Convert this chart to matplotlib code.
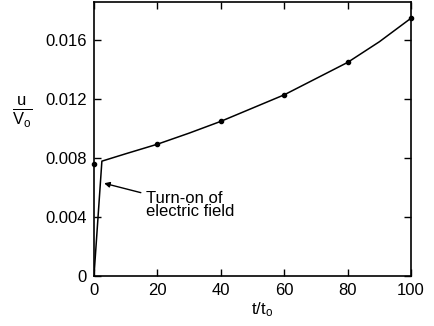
import matplotlib.pyplot as plt

plt.rcParams['font.family'] = ['Liberation Sans', 'DejaVu Sans']
plt.rcParams['mathtext.fontset'] = 'custom'
plt.rcParams['mathtext.rm'] = 'Liberation Sans'
plt.rcParams['mathtext.it'] = 'Liberation Sans'

# ---------------- DATA ----------------
# smooth curve, including the steep turn-on at the start
curve_t = [0, 2.5, 10, 20, 30, 40, 50, 60, 70, 75, 80, 85, 90, 95, 100]
curve_u = [0.0, 0.0078, 0.0083, 0.00895, 0.0097, 0.0105, 0.0114,
           0.0123, 0.0134, 0.01395, 0.0145, 0.0152, 0.0159, 0.0167, 0.0175]

# marked points
point_t = [0, 20, 40, 60, 80, 100]
point_u = [0.0076, 0.00895, 0.0105, 0.0123, 0.0145, 0.0175]

x_ticks = [0, 20, 40, 60, 80, 100]
y_ticks = [0, 0.004, 0.008, 0.012, 0.016]
y_tick_labels = ["0", "0.004", "0.008", "0.012", "0.016"]

# ---------------- FIGURE ----------------
fig = plt.figure(figsize=(4.35, 3.26), dpi=100)
ax = fig.add_axes([0.216, 0.153, 0.729, 0.841])

ax.plot(curve_t, curve_u, color='black', linewidth=1.1)
ax.plot(point_t, point_u, 'o', color='black', markersize=3, clip_on=False)

ax.set_xlim(0, 100)
ax.set_ylim(0, 0.0186)
ax.set_xticks(x_ticks)
ax.set_yticks(y_ticks)
ax.set_yticklabels(y_tick_labels)
ax.tick_params(direction='in', top=True, right=True, length=5, width=1,
               labelsize=12, pad=5)
for s in ax.spines.values():
    s.set_linewidth(1.2)

ax.set_xlabel(r"t/t$_\mathrm{o}$", fontsize=12)
ax.xaxis.set_label_coords(0.53, -0.09)
fig.text(0.05, 0.655, r"$\frac{\mathrm{u}}{\mathrm{V_o}}$", fontsize=17,
         ha='center', va='center')

ax.annotate("Turn-on of\nelectric field", xy=(3.2, 0.0063),
            xytext=(16.5, 0.0048), fontsize=12, va='center', ha='left',
            linespacing=0.85,
            arrowprops=dict(arrowstyle='-|>', color='black', lw=1,
                            mutation_scale=8, shrinkA=2, shrinkB=0))

plt.savefig("out.png", dpi=100)
plt.close()
